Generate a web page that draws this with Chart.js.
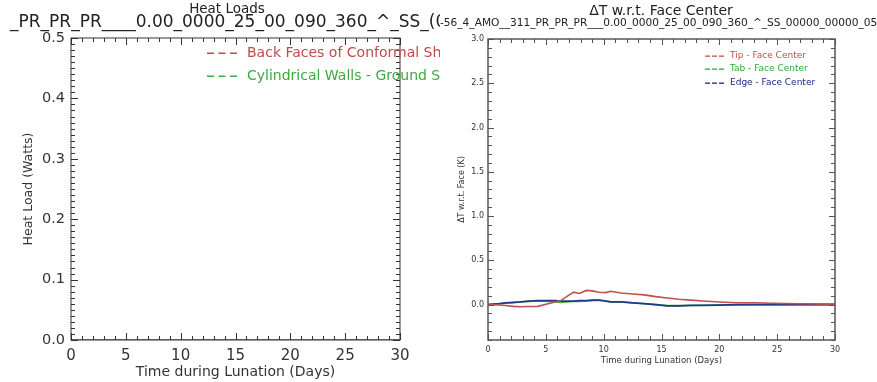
<!DOCTYPE html>
<html>
<head>
<meta charset="utf-8">
<script src="https://cdn.jsdelivr.net/npm/chart.js@4/dist/chart.umd.min.js"></script>
<style>
  body { margin: 0; background: #fff; font-family: "DejaVu Sans", sans-serif; }
  .panel { position: absolute; top: 0; height: 382px; overflow: hidden; }
  .panel canvas { position: absolute; left: 0; top: 0; }
  .ttl { position: absolute; white-space: nowrap; color: #222; line-height: 1; }
</style>
</head>
<body>
<div class="panel" id="leftPanel" style="left:0;width:440px">
  <canvas id="heat-loads" width="440" height="382"></canvas>
  <div class="ttl" style="left:0;width:454px;text-align:center;top:2px;font-size:13.5px">Heat Loads</div>
  <div class="ttl" style="left:10px;top:13px;font-size:17px">_PR_PR_PR____0.00_0000_25_00_090_360_^_SS_(0</div>
</div>
<div class="panel" id="rightPanel" style="left:440px;width:437px">
  <canvas id="delta-t" width="437" height="382"></canvas>
  <div class="ttl" style="left:0;width:442px;text-align:center;top:3px;font-size:14px">ΔT w.r.t. Face Center</div>
  <div class="ttl" style="left:0;top:17px;font-size:10.6px">-56_4_AMO__311_PR_PR_PR___0.00_0000_25_00_090_360_^_SS_00000_00000_05</div>
</div>
<script>
// heat loads panel data (both series sit at zero)
let heatDays = [0, 5, 10, 15, 20, 25, 30];
let backFacesLoad = [0, 0, 0, 0, 0, 0, 0];
let cylWallsLoad = [0, 0, 0, 0, 0, 0, 0];

// delta T panel data
let dtDays = [0, 1, 1.5, 2.2, 2.8, 3.5, 4.3, 5.2, 5.8, 6.3, 6.8, 7.4, 7.9, 8.5, 9, 9.6, 10.2, 10.6, 11.5, 12.5, 13.5, 14.5, 15.5, 16.5, 17.5, 18.6, 20, 21.5, 23, 24.5, 27, 30];
let tipDT = [0, -0.005, -0.01, -0.02, -0.025, -0.022, -0.02, 0.01, 0.03, 0.045, 0.09, 0.14, 0.125, 0.16, 0.155, 0.14, 0.135, 0.15, 0.13, 0.12, 0.11, 0.09, 0.075, 0.06, 0.05, 0.04, 0.03, 0.02, 0.02, 0.015, 0.01, 0.005];
let tabDT = [0, 0.01, 0.015, 0.02, 0.03, 0.035, 0.04, 0.035, 0.03, 0.025, 0.03, 0.035, 0.035, 0.04, 0.045, 0.05, 0.04, 0.03, 0.03, 0.02, 0.01, 0, -0.012, -0.012, -0.01, -0.008, -0.005, -0.003, 0, 0, 0, 0];
let edgeDT = [0, 0.01, 0.02, 0.025, 0.03, 0.04, 0.045, 0.045, 0.045, 0.04, 0.04, 0.04, 0.045, 0.045, 0.05, 0.05, 0.04, 0.03, 0.03, 0.02, 0.01, 0, -0.015, -0.015, -0.01, -0.008, -0.005, 0, 0, 0, 0, 0];

function pts(xs, ys) {
    return xs.map((d, i) => ({x: d, y: ys[i]}));
}

// draws the box round the plot and the inward IDL style ticks on all four sides
const frameTicks = {
    id: 'frameTicks',
    afterDraw(chart, args, o) {
        const {ctx, chartArea: a, scales: {x, y}} = chart;
        ctx.save();
        ctx.strokeStyle = o.color;
        ctx.lineWidth = o.width;
        ctx.strokeRect(a.left, a.top, a.right - a.left, a.bottom - a.top);
        ctx.lineWidth = 1;
        ctx.beginPath();
        let n = Math.round((x.max - x.min) / o.xMinor);
        for (let i = 0; i <= n; i++) {
            let v = x.min + i * o.xMinor;
            let px = Math.round(x.getPixelForValue(v)) + 0.5;
            let len = (i % o.xEvery === 0) ? o.majorLen : o.minorLen;
            ctx.moveTo(px, a.bottom); ctx.lineTo(px, a.bottom - len);
            ctx.moveTo(px, a.top); ctx.lineTo(px, a.top + len);
        }
        n = Math.round((y.max - y.min) / o.yMinor);
        for (let i = 0; i <= n; i++) {
            let v = y.min + i * o.yMinor;
            let py = Math.round(y.getPixelForValue(v)) + 0.5;
            let major = Math.abs(v / o.yMajor - Math.round(v / o.yMajor)) < 1e-6;
            let len = major ? o.majorLen : o.minorLen;
            ctx.moveTo(a.left, py); ctx.lineTo(a.left + len, py);
            ctx.moveTo(a.right, py); ctx.lineTo(a.right - len, py);
        }
        ctx.stroke();
        ctx.restore();
    }
};

// legend drawn as a dashed sample and the label in the series colour, like the IDL plot
const idlLegend = {
    id: 'idlLegend',
    afterDraw(chart, args, o) {
        const ctx = chart.ctx;
        ctx.save();
        ctx.font = o.font;
        ctx.textBaseline = 'middle';
        chart.data.datasets.forEach((ds, i) => {
            let yy = Math.round(o.y + i * o.step);
            ctx.fillStyle = ds.textColor || ds.borderColor;
            for (let k = 0; k < 3; k++) {
                ctx.fillRect(o.x + k * (o.dash + o.gap), yy - 0.5, o.dash, o.thick);
            }
            ctx.fillText(ds.label, o.x + o.textOffset, yy);
        });
        ctx.restore();
    }
};

Chart.defaults.font.family = '"DejaVu Sans", sans-serif';
Chart.defaults.color = '#333';

let heatLoads = document.querySelector('#heat-loads').getContext('2d');
let deltaT = document.querySelector('#delta-t').getContext('2d');

let heatGraph = new Chart(heatLoads, {
    type: 'line',
    data: {
        datasets: [{
            label: 'Back Faces of Conformal Shields',
            data: pts(heatDays, backFacesLoad),
            borderColor: '#c24a4a',
            borderWidth: 1.5,
            pointRadius: 0,
        }, {
            label: 'Cylindrical Walls - Ground Shield',
            data: pts(heatDays, cylWallsLoad),
            borderColor: '#7cc47c',
            textColor: '#3fa83f',
            borderWidth: 1.5,
            pointRadius: 0,
        }]
    },
    plugins: [frameTicks, idlLegend],
    options: {
        responsive: false,
        animation: false,
        layout: {padding: {left: 0, right: 40, top: 38, bottom: 0}},
        scales: {
            x: {
                type: 'linear', min: 0, max: 30,
                afterFit: s => { s.height = 42; },
                grid: {display: false, drawTicks: false},
                border: {display: false},
                ticks: {stepSize: 5, padding: 7, font: {size: 15}, maxRotation: 0},
                title: {display: true, text: 'Time during Lunation (Days)', font: {size: 14}, padding: 1}
            },
            y: {
                min: 0, max: 0.5,
                afterFit: s => { s.width = 71; },
                grid: {display: false, drawTicks: false},
                border: {display: false},
                ticks: {stepSize: 0.1, padding: 6, font: {size: 14.5}, callback: v => v.toFixed(1)},
                title: {display: true, text: 'Heat Load (Watts)', font: {size: 12.5}, padding: 21}
            }
        },
        plugins: {
            legend: {display: false},
            tooltip: {enabled: false},
            frameTicks: {color: '#333', width: 1, xMinor: 1, xEvery: 5, yMinor: 0.01, yMajor: 0.1, majorLen: 7, minorLen: 4},
            idlLegend: {x: 207, y: 53, step: 23, dash: 7, gap: 4.5, thick: 1.5, textOffset: 40, font: '14px "DejaVu Sans"'}
        }
    }
});

let deltaTGraph = new Chart(deltaT, {
    type: 'line',
    data: {
        datasets: [{
            label: 'Tip - Face Center',
            data: pts(dtDays, tipDT),
            borderColor: '#c0504d',
            borderWidth: 1.6,
            pointRadius: 0,
            order: 0,
        }, {
            label: 'Tab - Face Center',
            data: pts(dtDays, tabDT),
            borderColor: '#44b04a',
            textColor: '#2fa83a',
            borderWidth: 1.6,
            pointRadius: 0,
            order: 2,
        }, {
            label: 'Edge - Face Center',
            data: pts(dtDays, edgeDT),
            borderColor: '#1f3a8c',
            textColor: '#1a2a80',
            borderWidth: 1.7,
            pointRadius: 0,
            order: 1,
        }]
    },
    plugins: [frameTicks, idlLegend],
    options: {
        responsive: false,
        animation: false,
        layout: {padding: {left: 0, right: 42, top: 39, bottom: 0}},
        scales: {
            x: {
                type: 'linear', min: 0, max: 30,
                afterFit: s => { s.height = 42; },
                grid: {display: false, drawTicks: false},
                border: {display: false},
                ticks: {stepSize: 5, padding: 5, font: {size: 8}, maxRotation: 0},
                title: {display: true, text: 'Time during Lunation (Days)', font: {size: 8.5}, padding: 16}
            },
            y: {
                min: -0.4, max: 3.0,
                afterFit: s => { s.width = 48; },
                grid: {display: false, drawTicks: false},
                border: {display: false},
                ticks: {stepSize: 0.5, padding: 4, font: {size: 8},
                    callback: v => Math.abs(v / 0.5 - Math.round(v / 0.5)) < 1e-6 ? v.toFixed(1) : ''},
                title: {display: true, text: 'ΔT w.r.t. Face (K)', font: {size: 8}, padding: 17}
            }
        },
        plugins: {
            legend: {display: false},
            tooltip: {enabled: false},
            frameTicks: {color: '#555', width: 1.5, xMinor: 1, xEvery: 5, yMinor: 0.1, yMajor: 0.5, majorLen: 6, minorLen: 4},
            idlLegend: {x: 265, y: 55.5, step: 13.5, dash: 5, gap: 2, thick: 1.3, textOffset: 25, font: '9px "DejaVu Sans"'}
        }
    }
});
</script>
</body>
</html>
